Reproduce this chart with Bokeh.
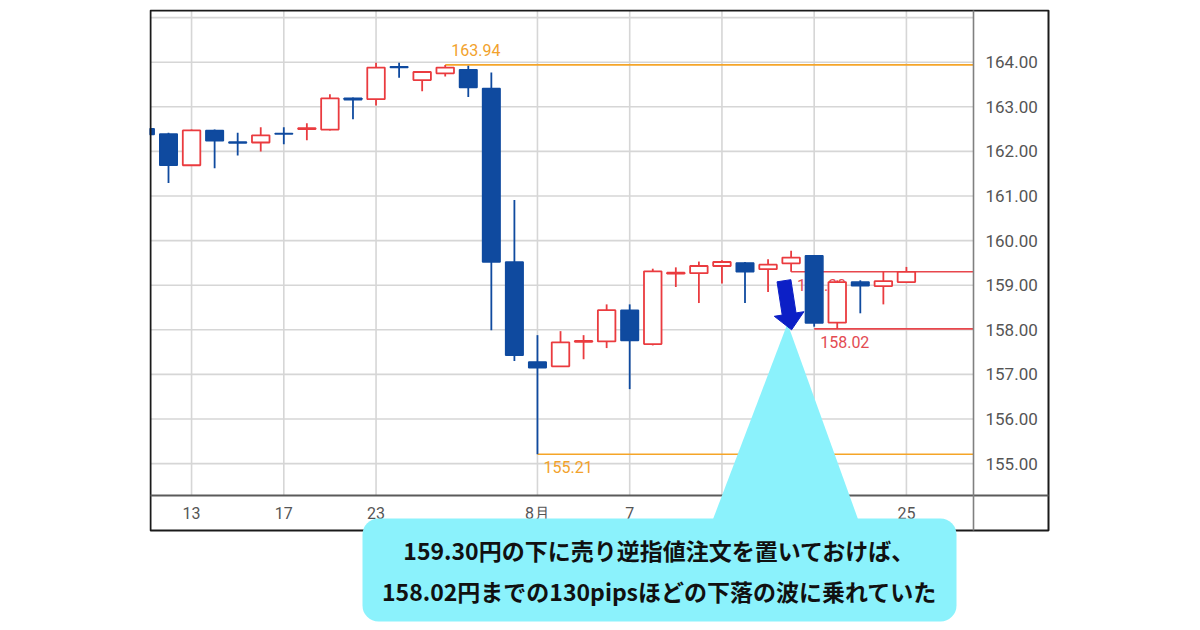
import math
from bokeh.plotting import figure
from bokeh.models import (Range1d, LinearAxis, FixedTicker, PrintfTickFormatter,
                          BoxAnnotation, ColumnDataSource)
from bokeh.core.properties import value
from bokeh.embed import file_html
from bokeh.resources import INLINE

# ---------------- data ----------------
candle_x = list(range(0, 34))
opens = [162.51, 162.39, 161.69, 162.47, 162.21, 162.20, 162.40, 162.50, 162.49, 163.19,
         163.17, 163.90, 163.60, 163.75, 163.83, 163.41, 159.52, 157.28, 157.18, 157.73,
         157.74, 158.44, 157.68, 159.26, 159.27, 159.43, 159.50, 159.36, 159.49, 159.66,
         158.16, 159.07, 158.98, 159.07]
highs = [162.53, 162.42, 162.49, 162.49, 162.42, 162.54, 162.54, 162.63, 163.28, 163.21,
         163.99, 163.99, 163.80, 163.94, 163.92, 163.77, 160.91, 157.88, 157.97, 157.88,
         158.57, 158.57, 159.37, 159.40, 159.53, 159.56, 159.52, 159.58, 159.77, 159.66,
         159.11, 159.11, 159.30, 159.41]
lows = [162.30, 161.29, 161.69, 161.62, 161.91, 162.00, 162.16, 162.25, 162.47, 162.72,
        163.03, 163.65, 163.35, 163.68, 163.22, 157.99, 157.30, 155.21, 157.18, 157.34,
        157.59, 156.67, 157.65, 158.96, 158.60, 159.04, 158.60, 158.85, 159.30, 158.07,
        158.02, 158.37, 158.57, 159.07]
closes = [162.38, 161.69, 162.47, 162.24, 162.19, 162.36, 162.39, 162.52, 163.19, 163.16,
          163.88, 163.88, 163.78, 163.88, 163.43, 159.52, 157.43, 157.15, 157.72, 157.75,
          158.44, 157.76, 159.31, 159.28, 159.43, 159.52, 159.30, 159.46, 159.62, 158.15,
          159.07, 158.99, 159.09, 159.30]

y_ticks = [155, 156, 157, 158, 159, 160, 161, 162, 163, 164]
y_grid = [155, 156, 157, 158, 159, 160, 161, 162, 163, 164, 165]
x_grid = [2, 6, 10, 17, 21, 25, 29, 33]
x_tick_pos = [2, 6, 10, 17, 21, 33]
x_tick_labels = ["13", "17", "23", "8月", "7", "25"]

level_values = [163.94, 155.21, 159.30, 158.02]
level_start = [13, 17, 28, 29]
level_labels = ["163.94", "155.21", "159.30", "158.02"]

callout_lines = ["159.30円の下に売り逆指値注文を置いておけば、",
                 "158.02円までの130pipsほどの下落の波に乗れていた"]

# ---------------- layout helpers (page pixels -> data) ----------------
PX_PER_X = 23.06
PX_PER_Y = 44.6
C1_PX = 168.0
V164_PY = 61.7

def X(px):
    return 1 + (px - C1_PX) / PX_PER_X

def Y(py):
    return 164 - (py - V164_PY) / PX_PER_Y

W, H = 1192, 624
LEFT_B, TOP_B = 149, 9
p = figure(width=W, height=H, output_backend="svg", toolbar_location=None, tools="",
           x_axis_location=None, y_axis_location=None,
           x_range=Range1d(X(LEFT_B), X(W)),
           y_range=Range1d(Y(H), Y(TOP_B)),
           min_border_left=LEFT_B, min_border_right=0, min_border_top=TOP_B, min_border_bottom=0,
           background_fill_color="white", border_fill_color="white")
p.outline_line_color = None
p.grid.visible = False

BLUE = "#0f4a9f"
RED = "#ea3b3f"
ORANGE = "#f5a528"
LRED = "#e8474d"
GRID = "#d6d6d6"

# grid lines (only inside the chart area)
right_edge = X(973)
bottom_edge = Y(495)
p.segment(x0=[X(150)] * len(y_grid), x1=[right_edge] * len(y_grid), y0=y_grid, y1=y_grid,
          line_color=GRID, line_width=1.6)
p.segment(x0=x_grid, x1=x_grid, y0=[bottom_edge] * len(x_grid), y1=[Y(10)] * len(x_grid),
          line_color=GRID, line_width=1.6)

# level lines
lv_colors = [ORANGE, ORANGE, LRED, LRED]
p.segment(x0=level_start, x1=[right_edge] * 4, y0=level_values, y1=level_values,
          line_color=lv_colors, line_width=1.6)
lv_src = ColumnDataSource(dict(x=level_start, y=level_values, t=level_labels,
                               c=["#f2a22c", "#f2a22c", "#e34b52", "#e34b52"],
                               dy=[-15, 13, 13, 13]))
p.text(x="x", y="y", text="t", source=lv_src, text_color="c", x_offset=6, y_offset="dy",
       text_font=value("Roboto"), text_font_size="16px", text_baseline="middle", text_align="left")

# candles
up = [c >= o for o, c in zip(opens, closes)]
src_up = ColumnDataSource(dict(
    x=[x for x, u in zip(candle_x, up) if u],
    o=[v for v, u in zip(opens, up) if u], c=[v for v, u in zip(closes, up) if u],
    h=[v for v, u in zip(highs, up) if u], l=[v for v, u in zip(lows, up) if u]))
src_dn = ColumnDataSource(dict(
    x=[x for x, u in zip(candle_x, up) if not u],
    o=[v for v, u in zip(opens, up) if not u], c=[v for v, u in zip(closes, up) if not u],
    h=[v for v, u in zip(highs, up) if not u], l=[v for v, u in zip(lows, up) if not u]))
BW = 0.76
p.segment(x0="x", x1="x", y0="h", y1="l", source=src_dn, line_color=BLUE, line_width=1.8)
p.vbar(x="x", width=BW, top="o", bottom="c", source=src_dn, fill_color=BLUE,
       line_color=BLUE, line_width=1.5)
p.segment(x0="x", x1="x", y0="h", y1="l", source=src_up, line_color=RED, line_width=1.8)
p.vbar(x="x", width=BW, top="c", bottom="o", source=src_up, fill_color="white",
       line_color=RED, line_width=1.8)

# outer border
p.quad(left=[X(150)], right=[X(1048)], top=[Y(10)], bottom=[Y(530)],
       fill_color=None, line_color="#1a1a1a", line_width=2)

# axes
yax = LinearAxis(fixed_location=right_edge, ticker=FixedTicker(ticks=y_ticks),
                 formatter=PrintfTickFormatter(format="%.2f"),
                 bounds=(Y(530), Y(10)),
                 major_tick_in=0, major_tick_out=0, minor_tick_in=0, minor_tick_out=0,
                 major_label_standoff=12, axis_line_color="#808080", axis_line_width=1.6,
                 major_label_text_font="Roboto", major_label_text_font_size="17px",
                 major_label_text_color="#555555")
p.add_layout(yax, "right")
xax = LinearAxis(fixed_location=bottom_edge, ticker=FixedTicker(ticks=x_tick_pos),
                 major_label_overrides={k: v for k, v in zip(x_tick_pos, x_tick_labels)},
                 bounds=(X(150), X(1048)),
                 major_tick_in=0, major_tick_out=0, minor_tick_in=0, minor_tick_out=0,
                 major_label_standoff=8, axis_line_color="#5a5a5a", axis_line_width=2,
                 major_label_text_font="Roboto", major_label_text_font_size="16px",
                 major_label_text_color="#555555")
p.add_layout(xax, "below")

# callout
CYAN = "#8bf2fc"
p.add_layout(BoxAnnotation(left=X(362), right=X(956), top=Y(518), bottom=Y(621),
                           fill_color=CYAN, fill_alpha=1.0, line_color=None, border_radius=16))
p.patch(x=[X(712), X(787), X(858)], y=[Y(520), Y(323), Y(520)], fill_color=CYAN,
        line_color=None, level="annotation")

# arrow (from just under the 159.30 level down to 158.02)
arrow_from = (27.69, 159.10)
arrow_to = (28.02, 158.00)
dx = (arrow_to[0] - arrow_from[0]) * PX_PER_X
dy = -(arrow_to[1] - arrow_from[1]) * PX_PER_Y
L = math.hypot(dx, dy)
ux, uy = dx / L, dy / L
nx, ny = -uy, ux
sw, hw, hl = 7.0, 15.0, 16.0
pts = [(sw * nx, sw * ny), ((L - hl) * ux + sw * nx, (L - hl) * uy + sw * ny),
       ((L - hl) * ux + hw * nx, (L - hl) * uy + hw * ny), (L * ux, L * uy),
       ((L - hl) * ux - hw * nx, (L - hl) * uy - hw * ny),
       ((L - hl) * ux - sw * nx, (L - hl) * uy - sw * ny), (-sw * nx, -sw * ny)]
p.patch(x=[arrow_from[0] + a / PX_PER_X for a, b in pts],
        y=[arrow_from[1] - b / PX_PER_Y for a, b in pts],
        fill_color="#0c1fc6", line_color="#0c1fc6", line_width=1, level="annotation")

p.text(x=[X(659), X(659)], y=[Y(549), Y(590)], text=callout_lines,
       text_align="center", text_baseline="middle", text_font=value("Noto Sans CJK JP"),
       text_font_style="bold", text_font_size="23px", text_color="#111111", level="overlay")

open("out.html", "w").write(file_html(p, INLINE))
